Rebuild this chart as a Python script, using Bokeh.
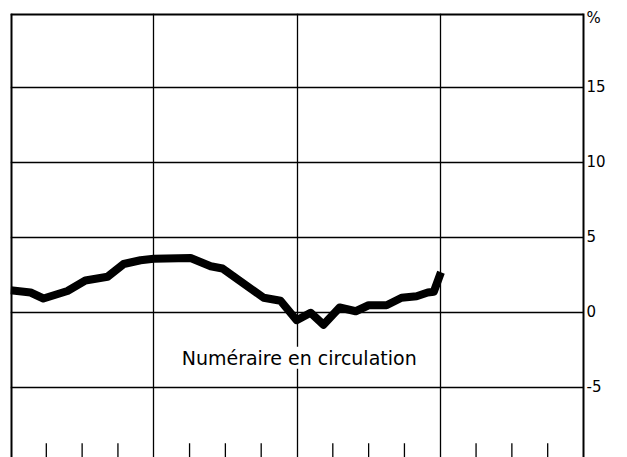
from bokeh.plotting import figure
from bokeh.models import FixedTicker, Grid, Span, Label
from bokeh.embed import file_html
from bokeh.resources import INLINE

# Data: x in quarters from start of first year (4 years shown), y in %
quarter_pos = [0.0, 0.56, 0.92, 1.59, 2.09, 2.71, 3.16, 3.63, 4.0, 5.03, 5.59, 5.92,
               7.07, 7.54, 7.99, 8.38, 8.74, 9.19, 9.64, 10.0, 10.5, 10.92, 11.34,
               11.65, 11.82, 12.02]
values = [1.45, 1.3, 0.9, 1.4, 2.1, 2.35, 3.2, 3.45, 3.55, 3.6, 3.05, 2.9,
          0.95, 0.75, -0.55, -0.05, -0.85, 0.3, 0.05, 0.45, 0.45, 0.95, 1.05,
          1.3, 1.35, 2.65]

year_bounds = [4, 8, 12]
quarter_ticks = [1, 2, 3, 5, 6, 7, 9, 10, 11, 13, 14, 15]
y_ticks = [-5, 0, 5, 10, 15]
y_tick_labels = ["-5", "0", "5", "10", "15"]
unit_label = "%"
unit_pos = 19.6
series_label = "Numéraire en circulation"
label_pos = (4.78, -3.05)

X0, X1 = 0, 16
Y0, Y1 = -9.7, 19.9
TICK_LEN = 0.95
FONT = "DejaVu Sans"

p = figure(width=618, height=457, x_range=(X0, X1), y_range=(Y0, Y1),
           output_backend="svg", toolbar_location=None,
           x_axis_location=None, y_axis_location="right",
           min_border_left=10, min_border_top=13, min_border_bottom=0,
           min_border_right=35)
p.outline_line_color = None
p.background_fill_color = "white"
p.border_fill_color = "white"

# remove default grids
p.center = [r for r in p.center if not isinstance(r, Grid)]
p.add_layout(Grid(dimension=0, ticker=FixedTicker(ticks=year_bounds),
                  grid_line_color="black", grid_line_width=1.3), "center")
p.add_layout(Grid(dimension=1, ticker=FixedTicker(ticks=y_ticks),
                  grid_line_color="black", grid_line_width=1.3), "center")

ax = p.yaxis[0]
ax.ticker = FixedTicker(ticks=y_ticks + [unit_pos])
overrides = {t: s for t, s in zip(y_ticks, y_tick_labels)}
overrides[unit_pos] = unit_label
ax.major_label_overrides = overrides
ax.axis_line_width = 2
ax.axis_line_color = "black"
ax.major_tick_out = 0
ax.major_tick_in = 0
ax.minor_tick_out = 0
ax.minor_tick_in = 0
ax.major_label_standoff = 3
ax.major_label_text_font = FONT
ax.major_label_text_font_size = "15px"
ax.major_label_text_color = "black"

# frame borders (left & top)
p.add_layout(Span(location=X0, dimension="height", line_color="black", line_width=4))
p.add_layout(Span(location=Y1, dimension="width", line_color="black", line_width=4))

# quarter ticks at bottom
n = len(quarter_ticks)
p.segment(x0=quarter_ticks, y0=[Y0] * n, x1=quarter_ticks, y1=[Y0 + TICK_LEN] * n,
          line_color="black", line_width=1.3)

p.line(quarter_pos, values, line_width=8, line_color="black", line_join="round")

p.add_layout(Label(x=label_pos[0], y=label_pos[1], text=series_label,
                   text_font=FONT, text_font_size="19px", text_color="black",
                   text_baseline="alphabetic", background_fill_color="white"))

open("out.html", "w").write(file_html(p, INLINE))
